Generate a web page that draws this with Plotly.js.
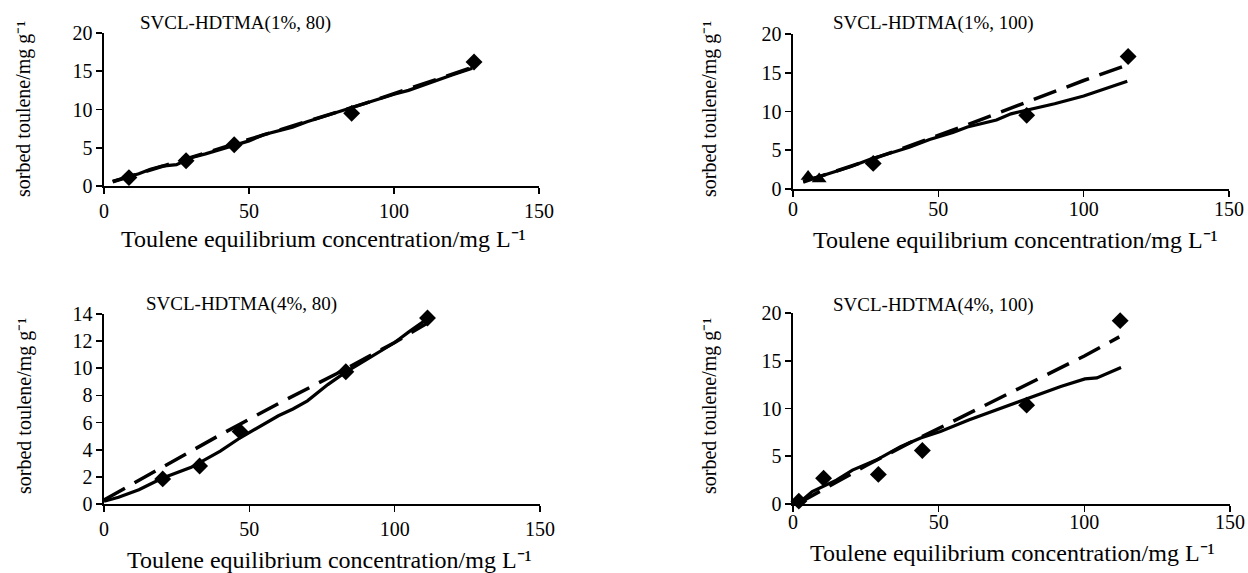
<!DOCTYPE html>
<html>
<head>
<meta charset="utf-8">
<script src="https://cdn.plot.ly/plotly-3.0.1.min.js"></script>
<style>
  html, body { margin: 0; padding: 0; background: #fff; }
  #chart { width: 1248px; height: 573px; }
</style>
</head>
<body>
<div id="chart"></div>
<script>
// ---------- Data ----------
const panelTitles = ["SVCL-HDTMA(1%, 80)", "SVCL-HDTMA(1%, 100)", "SVCL-HDTMA(4%, 80)", "SVCL-HDTMA(4%, 100)"];
const xTitle = "Toulene equilibrium concentration/mg L\u207B\u00B9";
const yTitle = "sorbed toulene/mg g\u207B\u00B9";

// Panel 1: SVCL-HDTMA(1%, 80)
const p1ObsX = [8.6, 28.3, 44.9, 85.4, 127.6];
const p1ObsY = [1.1, 3.3, 5.4, 9.5, 16.2];
const p1SolidX = [3, 8, 12, 16, 20, 25, 30, 35, 40, 45, 50, 55, 60, 65, 70, 75, 80, 85, 90, 95, 100, 105, 110, 115, 120, 127];
const p1SolidY = [0.6, 1.1, 1.6, 2.2, 2.6, 2.8, 3.7, 4.2, 4.8, 5.4, 5.9, 6.7, 7.2, 7.7, 8.4, 9.0, 9.7, 10.3, 10.9, 11.5, 12.0, 12.5, 13.2, 13.8, 14.5, 15.4];
const p1DashX = [3, 30, 60, 90, 127];
const p1DashY = [0.55, 3.7, 7.2, 10.8, 15.5];

// Panel 2: SVCL-HDTMA(1%, 100)
const p2ObsX = [27.6, 80.4, 115.3];
const p2ObsY = [3.3, 9.5, 17.1];
const p2TriX = [5.2, 9.0];
const p2TriY = [1.6, 1.3];
const p2SolidX = [3.5, 10, 20, 27, 35, 40, 47, 55, 60, 65, 70, 75, 80, 90, 100, 105, 110, 115];
const p2SolidY = [1.0, 1.7, 2.9, 3.9, 4.8, 5.4, 6.4, 7.3, 8.0, 8.5, 8.9, 9.7, 10.1, 11.0, 12.0, 12.6, 13.2, 13.9];
const p2DashX = [3.5, 30, 60, 80, 100, 115];
const p2DashY = [0.9, 4.2, 8.3, 11.2, 14.0, 16.0];

// Panel 3: SVCL-HDTMA(4%, 80)
const p3ObsX = [20.2, 32.9, 46.8, 83.2, 111.3];
const p3ObsY = [1.85, 2.8, 5.35, 9.75, 13.7];
const p3SolidX = [0, 5, 12, 20, 30, 40, 47, 55, 60, 65, 70, 77, 83, 90, 100, 105, 111];
const p3SolidY = [0.2, 0.5, 1.05, 1.9, 2.7, 3.9, 4.9, 5.9, 6.5, 7.0, 7.6, 8.8, 9.7, 10.6, 11.9, 12.7, 13.6];
const p3DashX = [0, 20, 40, 60, 80, 100, 111];
const p3DashY = [0.3, 2.7, 5.1, 7.4, 9.6, 11.9, 13.3];

// Panel 4: SVCL-HDTMA(4%, 100)
const p4ObsX = [2.0, 10.5, 29.3, 44.4, 80.2, 112.3];
const p4ObsY = [0.3, 2.7, 3.1, 5.6, 10.35, 19.2];
const p4SolidX = [2, 6.6, 14.9, 20.4, 28.6, 36.9, 43.8, 50.6, 60.3, 71.3, 82.3, 91.9, 100.2, 104.3, 112.6];
const p4SolidY = [0.1, 1.3, 2.5, 3.55, 4.6, 6.0, 6.9, 7.6, 8.8, 10.0, 11.2, 12.3, 13.1, 13.2, 14.3];
const p4DashX = [2, 12, 25, 40, 60, 80, 100, 112];
const p4DashY = [0.1, 1.8, 4.0, 6.4, 9.4, 12.4, 15.5, 17.5];

const xTicks = [0, 50, 100, 150];

// ---------- Styling ----------
const FONT = "'Liberation Serif', 'Times New Roman', Times, serif";
const W = 1248, H = 573;
const px = v => v / W;
const py = v => 1 - v / H;

function lineTrace(x, y, dash, ax) {
  return {x, y, mode: "lines", type: "scatter", xaxis: "x" + ax, yaxis: "y" + ax,
    line: {color: "#000", width: dash ? 3.5 : 3.2, dash: dash ? "24px,11px" : "solid"},
    hoverinfo: "skip", showlegend: false, cliponaxis: false};
}
function markTrace(x, y, symbol, ax) {
  return {x, y, mode: "markers", type: "scatter", xaxis: "x" + ax, yaxis: "y" + ax,
    marker: {symbol, size: 13, color: "#000"}, showlegend: false, cliponaxis: false};
}

const data = [
  lineTrace(p1SolidX, p1SolidY, false, ""), lineTrace(p1DashX, p1DashY, true, ""), markTrace(p1ObsX, p1ObsY, "diamond", ""),
  lineTrace(p2SolidX, p2SolidY, false, "2"), lineTrace(p2DashX, p2DashY, true, "2"), markTrace(p2ObsX, p2ObsY, "diamond", "2"), markTrace(p2TriX, p2TriY, "triangle-up", "2"),
  lineTrace(p3SolidX, p3SolidY, false, "3"), lineTrace(p3DashX, p3DashY, true, "3"), markTrace(p3ObsX, p3ObsY, "diamond", "3"),
  lineTrace(p4SolidX, p4SolidY, false, "4"), lineTrace(p4DashX, p4DashY, true, "4"), markTrace(p4ObsX, p4ObsY, "diamond", "4")
];

// pixel boxes [left, right, top, bottom]
const boxes = [
  [104, 539, 33, 186],
  [793, 1229, 34, 189],
  [104, 540, 314, 504],
  [793, 1230, 313, 504]
];
const yRanges = [[0, 20], [0, 20], [0, 14], [0, 20]];
const yDticks = [5, 5, 2, 5];
const xLabelShift = [0, -5, 0, -7];

function axisBase() {
  return {showline: true, linecolor: "#000", linewidth: 1.6, ticks: "outside", ticklen: 6, tickwidth: 1.6,
    tickcolor: "#000", showgrid: false, zeroline: false, fixedrange: true,
    tickfont: {family: FONT, size: 20, color: "#000"}};
}

const layout = {
  width: W, height: H, margin: {l: 0, r: 0, t: 0, b: 0},
  paper_bgcolor: "#fff", plot_bgcolor: "#fff", showlegend: false,
  font: {family: FONT, color: "#000", size: 20},
  annotations: []
};

boxes.forEach((b, i) => {
  const s = i === 0 ? "" : String(i + 1);
  layout["xaxis" + s] = Object.assign(axisBase(), {
    domain: [px(b[0]), px(b[1])], range: [0, 150], tickvals: xTicks, anchor: "y" + s,
    ticklabelstandoff: xLabelShift[i]
  });
  layout["yaxis" + s] = Object.assign(axisBase(), {
    domain: [py(b[3]), py(b[2])], range: yRanges[i], dtick: yDticks[i], tick0: 0, anchor: "x" + s
  });
});

// panel titles
const titlePos = [[235, 23], [933, 23], [241, 304], [933, 305]];
titlePos.forEach((p, i) => layout.annotations.push({
  text: panelTitles[i], xref: "paper", yref: "paper", x: px(p[0]), y: py(p[1]),
  xanchor: "center", yanchor: "middle", showarrow: false,
  font: {family: FONT, size: 19, color: "#000"}
}));
// x axis titles
const xtPos = [[323, 239], [1015, 240], [329, 560], [1012, 553]];
xtPos.forEach(p => layout.annotations.push({
  text: xTitle, xref: "paper", yref: "paper", x: px(p[0]), y: py(p[1]),
  xanchor: "center", yanchor: "middle", showarrow: false,
  font: {family: FONT, size: 24, color: "#000"}
}));
// y axis titles
const ytPos = [[24, 109], [710, 109], [24, 406], [709, 406]];
ytPos.forEach(p => layout.annotations.push({
  text: yTitle, xref: "paper", yref: "paper", x: px(p[0]), y: py(p[1]),
  xanchor: "center", yanchor: "middle", showarrow: false, textangle: -90,
  font: {family: FONT, size: 20, color: "#000"}
}));

Plotly.newPlot("chart", data, layout, {staticPlot: true, displayModeBar: false});
</script>
</body>
</html>
